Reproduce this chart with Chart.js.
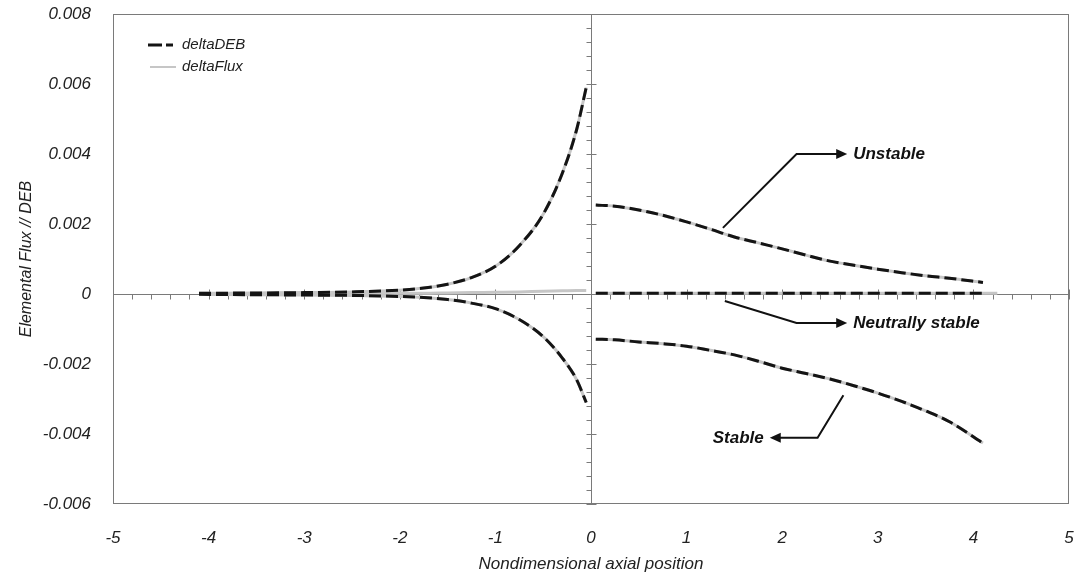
<!DOCTYPE html>
<html>
<head>
<meta charset="utf-8">
<script src="https://cdn.jsdelivr.net/npm/chart.js@4.4.1/dist/chart.umd.min.js"></script>
<style>
  body { margin: 0; background: #fff; }
  #wrap { width: 1078px; height: 576px; }
</style>
</head>
<body>
<div id="wrap"><canvas id="fluxChart"></canvas></div>
<script>
// sample positions along the axis
let leftX = [-4.1, -3.5, -3.0, -2.5, -2.0, -1.75, -1.5, -1.25, -1.0, -0.75, -0.5, -0.3, -0.15, -0.05];
let rightX = [0.05, 0.25, 0.5, 0.75, 1.0, 1.25, 1.5, 1.75, 2.0, 2.25, 2.5, 2.75, 3.0, 3.25, 3.5, 3.75, 4.1];
let neutralFluxX = [0.05, 1.0, 2.0, 3.0, 4.25];

// upstream side (x < 0)
let upperLeft = [0.00002, 0.00003, 0.00004, 0.00006, 0.00011, 0.00017, 0.00028, 0.00047, 0.00079, 0.00138, 0.00228, 0.00345, 0.0047, 0.0059];
let lowerLeft = [-0.00001, -0.00002, -0.00003, -0.00004, -0.00007, -0.0001, -0.00016, -0.00026, -0.00042, -0.00073, -0.00122, -0.00183, -0.00245, -0.0031];
let neutralLeftFlux = [0, 0, 0.00001, 0.00001, 0.00002, 0.00002, 0.00003, 0.00004, 0.00005, 0.00006, 0.00008, 0.00009, 0.0001, 0.0001];

// downstream side (x > 0)
let unstable = [0.00254, 0.00251, 0.0024, 0.00225, 0.00206, 0.00185, 0.00163, 0.00146, 0.00129, 0.00111, 0.00094, 0.00082, 0.00071, 0.00061, 0.00052, 0.00045, 0.00033];
let neutral = [0.00002, 0.00002, 0.00002, 0.00002, 0.00002, 0.00002, 0.00002, 0.00002, 0.00002, 0.00002, 0.00002, 0.00002, 0.00002, 0.00002, 0.00002, 0.00002, 0.00002];
let neutralRightFlux = [0.00002, 0.00002, 0.00002, 0.00002, 0.00002];
let stable = [-0.00129, -0.00131, -0.00137, -0.00142, -0.00149, -0.00161, -0.00174, -0.00192, -0.00212, -0.00227, -0.00243, -0.00262, -0.00283, -0.00307, -0.00334, -0.00365, -0.00426];

let xTicks = [-5, -4, -3, -2, -1, 0, 1, 2, 3, 4, 5];
let seriesNames = ["deltaDEB", "deltaFlux"];

// callouts: path points in data units, then the label
let notes = [
  { text: "Unstable", path: [[1.38, 0.00189], [2.15, 0.0040], [2.68, 0.0040]], align: "left" },
  { text: "Neutrally stable", path: [[1.40, -0.0002], [2.15, -0.00083], [2.68, -0.00083]], align: "left" },
  { text: "Stable", path: [[2.64, -0.00289], [2.37, -0.00411], [1.87, -0.00411]], align: "right" }
];

function pts(xs, ys) {
  return xs.map((x, i) => ({ x: x, y: ys[i] }));
}

const DEB_COLOR = "#141414";
const FLUX_COLOR = "#c6c6c6";
const FONT = '"Liberation Sans", Arial, sans-serif';

function debSet(data) {
  return {
    label: seriesNames[0], data: data, borderColor: DEB_COLOR, borderWidth: 3,
    borderDash: [12, 5], pointRadius: 0, fill: false, cubicInterpolationMode: "monotone"
  };
}
function fluxSet(data) {
  return {
    label: seriesNames[1], data: data, borderColor: FLUX_COLOR, borderWidth: 3,
    pointRadius: 0, fill: false, cubicInterpolationMode: "monotone"
  };
}

// frame plus the two axes crossing at the origin
const crossAxes = {
  id: "crossAxes",
  beforeDatasetsDraw(chart) {
    let { ctx, chartArea: a, scales } = chart;
    let x0 = Math.round(scales.x.getPixelForValue(0)) + 0.5;
    let y0 = Math.round(scales.y.getPixelForValue(0)) + 0.5;
    ctx.save();
    ctx.strokeStyle = "#7a7a7a";
    ctx.lineWidth = 1;
    ctx.strokeRect(a.left + 0.5, a.top + 0.5, a.width - 1, a.height - 1);
    ctx.beginPath();
    ctx.moveTo(x0, a.top); ctx.lineTo(x0, a.bottom);
    ctx.moveTo(a.left, y0); ctx.lineTo(a.right, y0);
    for (let i = -25; i <= 25; i++) {
      let px = Math.round(scales.x.getPixelForValue(i * 0.2)) + 0.5;
      ctx.moveTo(px, i % 5 === 0 ? y0 - 5 : y0);
      ctx.lineTo(px, y0 + 5);
    }
    for (let i = -15; i <= 20; i++) {
      let py = Math.round(scales.y.getPixelForValue(i * 0.0004)) + 0.5;
      ctx.moveTo(x0 - 5, py);
      ctx.lineTo(i % 5 === 0 ? x0 + 5 : x0, py);
    }
    ctx.stroke();
    ctx.restore();
  }
};

const callouts = {
  id: "callouts",
  afterDatasetsDraw(chart) {
    let { ctx, scales, chartArea: a } = chart;
    ctx.save();
    ctx.strokeStyle = "#111";
    ctx.fillStyle = "#111";
    ctx.lineWidth = 2;
    ctx.font = "italic bold 17px " + FONT;
    ctx.textBaseline = "middle";
    notes.forEach(n => {
      let p = n.path.map(q => [scales.x.getPixelForValue(q[0]), scales.y.getPixelForValue(q[1])]);
      let tip = p[p.length - 1], prev = p[p.length - 2];
      let ang = Math.atan2(tip[1] - prev[1], tip[0] - prev[0]);
      ctx.beginPath();
      ctx.moveTo(p[0][0], p[0][1]);
      for (let i = 1; i < p.length - 1; i++) ctx.lineTo(p[i][0], p[i][1]);
      ctx.lineTo(tip[0] - 9 * Math.cos(ang), tip[1] - 9 * Math.sin(ang));
      ctx.stroke();
      ctx.beginPath();
      ctx.moveTo(tip[0], tip[1]);
      ctx.lineTo(tip[0] - 11 * Math.cos(ang) + 5 * Math.sin(ang), tip[1] - 11 * Math.sin(ang) - 5 * Math.cos(ang));
      ctx.lineTo(tip[0] - 11 * Math.cos(ang) - 5 * Math.sin(ang), tip[1] - 11 * Math.sin(ang) + 5 * Math.cos(ang));
      ctx.closePath();
      ctx.fill();
      ctx.textAlign = n.align;
      ctx.fillText(n.text, tip[0] + (n.align === "left" ? 6 : -6), tip[1]);
    });

    // legend in the upper left corner of the plot
    let lx = a.left + 35, ly = a.top + 31;
    ctx.font = "italic 15px " + FONT;
    ctx.textAlign = "left";
    ctx.fillStyle = "#222";
    ctx.lineWidth = 3;
    ctx.strokeStyle = DEB_COLOR;
    ctx.setLineDash([14, 4, 7, 100]);
    ctx.beginPath(); ctx.moveTo(lx, ly); ctx.lineTo(lx + 28, ly); ctx.stroke();
    ctx.lineWidth = 2;
    ctx.strokeStyle = FLUX_COLOR;
    ctx.setLineDash([]);
    ctx.beginPath(); ctx.moveTo(lx + 2, ly + 22); ctx.lineTo(lx + 28, ly + 22); ctx.stroke();
    ctx.fillText(seriesNames[0], lx + 34, ly);
    ctx.fillText(seriesNames[1], lx + 34, ly + 22);
    ctx.restore();
  }
};

new Chart(document.getElementById("fluxChart"), {
  type: "line",
  data: {
    datasets: [
      debSet(pts(leftX, upperLeft)),
      debSet(pts(leftX, lowerLeft)),
      debSet(pts(rightX, unstable)),
      debSet(pts(rightX, neutral)),
      debSet(pts(rightX, stable)),
      fluxSet(pts(leftX, upperLeft)),
      fluxSet(pts(leftX, lowerLeft)),
      fluxSet(pts(leftX, neutralLeftFlux)),
      fluxSet(pts(rightX, unstable)),
      fluxSet(pts(neutralFluxX, neutralRightFlux)),
      fluxSet(pts(rightX, stable))
    ]
  },
  options: {
    responsive: true,
    maintainAspectRatio: false,
    animation: false,
    layout: { padding: { top: 14, right: 9, left: 0, bottom: 0 } },
    plugins: {
      tooltip: { enabled: false },
      legend: { display: false }
    },
    scales: {
      x: {
        type: "linear",
        min: -5, max: 5,
        afterFit(s) { s.height = 72; s.paddingLeft = 0; s.paddingRight = 0; },
        afterBuildTicks(s) { s.ticks = xTicks.map(v => ({ value: v })); },
        grid: { display: false, drawTicks: false },
        border: { display: false },
        ticks: {
          padding: 24,
          color: "#222",
          font: { family: FONT, size: 17, style: "italic" },
          callback: v => String(v)
        },
        title: {
          display: true,
          text: "Nondimensional axial position",
          color: "#222",
          padding: { top: 0, bottom: 2 },
          font: { family: FONT, size: 17, style: "italic" }
        }
      },
      y: {
        min: -0.006, max: 0.008,
        afterFit(s) { s.width = 113; s.paddingTop = 0; s.paddingBottom = 0; },
        grid: { display: false, drawTicks: false },
        border: { display: false },
        ticks: {
          stepSize: 0.002,
          padding: 22,
          color: "#222",
          font: { family: FONT, size: 17, style: "italic" },
          callback: v => Math.abs(v) < 1e-9 ? "0" : v.toFixed(3)
        },
        title: {
          display: true,
          text: "Elemental Flux // DEB",
          color: "#222",
          padding: { top: 17, bottom: 0 },
          font: { family: FONT, size: 16, style: "italic" }
        }
      }
    }
  },
  plugins: [crossAxes, callouts]
});
</script>
</body>
</html>
